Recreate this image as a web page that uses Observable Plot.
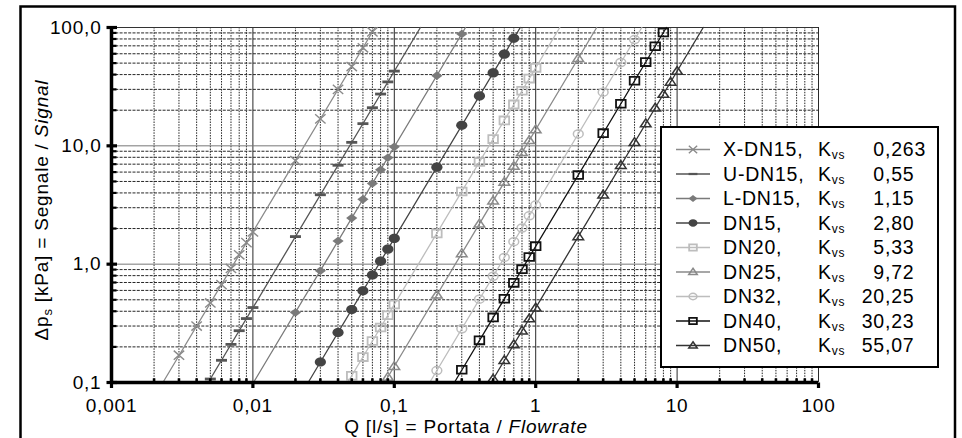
<!DOCTYPE html>
<html><head><meta charset="utf-8">
<script src="https://cdn.jsdelivr.net/npm/d3@7"></script>
<script src="https://cdn.jsdelivr.net/npm/@observablehq/plot@0.6"></script>
<style>
body{margin:0;background:#fff;}
#chart{width:962px;height:438px;overflow:hidden;}
</style>
</head><body><div id="chart"></div>
<script>
// ---- axis ticks / labels ----
const X_TICKS = [0.001, 0.01, 0.1, 1, 10, 100];
const X_TICK_LABELS = ["0,001", "0,01", "0,1", "1", "10", "100"];
const Y_TICKS = [0.1, 1, 10, 100];
const Y_TICK_LABELS = ["0,1", "1,0", "10,0", "100,0"];

// ---- series ----
const NAMES = ["X-DN15,", "U-DN15,", "L-DN15,", "DN15,", "DN20,", "DN25,", "DN32,", "DN40,", "DN50,"];
const KVS = ["0,263", "0,55", "1,15", "2,80", "5,33", "9,72", "20,25", "30,23", "55,07"];

// markers: Q [l/s] and Δp [kPa]
const Q_XDN15  = [0.003, 0.004, 0.005, 0.006, 0.007, 0.008, 0.009, 0.01, 0.02, 0.03, 0.04, 0.05, 0.06, 0.07];
const DP_XDN15 = [0.17, 0.30, 0.47, 0.67, 0.92, 1.20, 1.52, 1.87, 7.5, 16.9, 30.0, 46.8, 67.4, 91.8];
const Q_UDN15  = [0.005, 0.006, 0.007, 0.008, 0.009, 0.01, 0.02, 0.03, 0.04, 0.05, 0.06, 0.07, 0.08, 0.09, 0.1];
const DP_UDN15 = [0.107, 0.154, 0.21, 0.274, 0.347, 0.43, 1.71, 3.86, 6.85, 10.7, 15.4, 21.0, 27.4, 34.7, 42.8];
const Q_LDN15  = [0.02, 0.03, 0.04, 0.05, 0.06, 0.07, 0.08, 0.09, 0.1, 0.2, 0.3];
const DP_LDN15 = [0.39, 0.88, 1.57, 2.45, 3.53, 4.80, 6.27, 7.94, 9.8, 39.2, 88.2];
const Q_DN15   = [0.03, 0.04, 0.05, 0.06, 0.07, 0.08, 0.09, 0.1, 0.2, 0.3, 0.4, 0.5, 0.6, 0.7];
const DP_DN15  = [0.149, 0.264, 0.413, 0.595, 0.81, 1.06, 1.34, 1.65, 6.6, 14.9, 26.4, 41.3, 59.5, 81.0];
const Q_DN20   = [0.05, 0.06, 0.07, 0.08, 0.09, 0.1, 0.2, 0.3, 0.4, 0.5, 0.6, 0.7, 0.8, 0.9, 1];
const DP_DN20  = [0.114, 0.164, 0.224, 0.292, 0.37, 0.456, 1.82, 4.11, 7.3, 11.4, 16.4, 22.4, 29.2, 37.0, 45.6];
const Q_DN25   = [0.09, 0.1, 0.2, 0.3, 0.4, 0.5, 0.6, 0.7, 0.8, 0.9, 1, 2];
const DP_DN25  = [0.111, 0.137, 0.549, 1.23, 2.19, 3.43, 4.94, 6.72, 8.78, 11.1, 13.7, 54.9];
const Q_DN32   = [0.2, 0.3, 0.4, 0.5, 0.6, 0.7, 0.8, 0.9, 1, 2, 3, 4, 5];
const DP_DN32  = [0.126, 0.284, 0.506, 0.79, 1.14, 1.55, 2.02, 2.56, 3.16, 12.6, 28.4, 50.6, 79.0];
const Q_DN40   = [0.3, 0.4, 0.5, 0.6, 0.7, 0.8, 0.9, 1, 2, 3, 4, 5, 6, 7, 8];
const DP_DN40  = [0.128, 0.227, 0.355, 0.51, 0.695, 0.908, 1.15, 1.42, 5.67, 12.8, 22.7, 35.5, 51.0, 69.5, 90.8];
const Q_DN50   = [0.5, 0.6, 0.7, 0.8, 0.9, 1, 2, 3, 4, 5, 6, 7, 8, 9, 10];
const DP_DN50  = [0.107, 0.154, 0.209, 0.273, 0.346, 0.427, 1.71, 3.85, 6.84, 10.7, 15.4, 20.9, 27.3, 34.6, 42.7];

// characteristic lines: Q where each line meets Δp = 0.1 and Δp = 100
const LINE_DP = [0.1, 100];
const LINE_Q_LOW  = [0.00231, 0.00483, 0.0101, 0.0246, 0.0468, 0.0854, 0.178, 0.266, 0.484];
const LINE_Q_HIGH = [0.0731, 0.153, 0.319, 0.778, 1.48, 2.70, 5.63, 8.40, 15.3];

const SERIES_Q  = [Q_XDN15, Q_UDN15, Q_LDN15, Q_DN15, Q_DN20, Q_DN25, Q_DN32, Q_DN40, Q_DN50];
const SERIES_DP = [DP_XDN15, DP_UDN15, DP_LDN15, DP_DN15, DP_DN20, DP_DN25, DP_DN32, DP_DN40, DP_DN50];

// ---- styles ----
const STYLES = [
  {color: "#8a8a8a", sym: "times",    fill: "none",    stroke: "#8a8a8a", sw: 1.4},
  {color: "#555555", sym: "dash",     fill: "#555555", stroke: "none",    sw: 0},
  {color: "#7a7a7a", sym: "diamond",  fill: "#7a7a7a", stroke: "none",    sw: 0},
  {color: "#444444", sym: "ellipse",  fill: "#444444", stroke: "none",    sw: 0},
  {color: "#bdbdbd", sym: "square",   fill: "none",    stroke: "#bdbdbd", sw: 1.8},
  {color: "#8a8a8a", sym: "triangle", fill: "none",    stroke: "#8a8a8a", sw: 1.5},
  {color: "#bdbdbd", sym: "oellipse", fill: "none",    stroke: "#bdbdbd", sw: 1.5},
  {color: "#111111", sym: "square",   fill: "none",    stroke: "#111111", sw: 1.8},
  {color: "#333333", sym: "triangle", fill: "none",    stroke: "#333333", sw: 1.5}
];

function ellipse(ctx, rx, ry) {
  const k = 0.5523;
  ctx.moveTo(rx, 0);
  ctx.bezierCurveTo(rx, ry * k, rx * k, ry, 0, ry);
  ctx.bezierCurveTo(-rx * k, ry, -rx, ry * k, -rx, 0);
  ctx.bezierCurveTo(-rx, -ry * k, -rx * k, -ry, 0, -ry);
  ctx.bezierCurveTo(rx * k, -ry, rx, -ry * k, rx, 0);
  ctx.closePath();
}
function sym(kind, s = 1) {
  return {draw(ctx) {
    switch (kind) {
      case "times": { const w = 5.2 * s, h = 4.6 * s;
        ctx.moveTo(-w, -h); ctx.lineTo(w, h); ctx.moveTo(-w, h); ctx.lineTo(w, -h); break; }
      case "dash": ctx.rect(-5.5 * s, -1.4 * s, 11 * s, 2.8 * s); break;
      case "diamond": ctx.moveTo(0, -4.3 * s); ctx.lineTo(5.6 * s, 0); ctx.lineTo(0, 4.3 * s); ctx.lineTo(-5.6 * s, 0); ctx.closePath(); break;
      case "ellipse": ellipse(ctx, 5.6 * s, 4.6 * s); break;
      case "oellipse": ellipse(ctx, 4.9 * s, 4.0 * s); break;
      case "square": ctx.rect(-4.8 * s, -3.9 * s, 9.6 * s, 7.8 * s); break;
      case "triangle": ctx.moveTo(0, -4.7 * s); ctx.lineTo(5.3 * s, 3.1 * s); ctx.lineTo(-5.3 * s, 3.1 * s); ctx.closePath(); break;
    }
  }};
}
const rectSym = (x0, y0, w, h) => ({draw(ctx) { ctx.rect(x0, y0, w, h); }});

// grid positions (axis structure)
const X_MINOR = [], Y_MINOR = [];
for (const dec of [0.001, 0.01, 0.1, 1, 10]) for (let k = 2; k <= 9; k++) X_MINOR.push(+(dec * k).toPrecision(3));
for (const dec of [0.1, 1, 10]) for (let k = 2; k <= 9; k++) Y_MINOR.push(+(dec * k).toPrecision(3));

const marks = [
  Plot.ruleX(X_MINOR, {stroke: "#262626", strokeWidth: 1, strokeDasharray: "1.5,1.2"}),
  Plot.ruleY(Y_MINOR, {stroke: "#262626", strokeWidth: 1, strokeDasharray: "3,1.3"}),
  Plot.ruleX([0.01, 0.1, 1, 10, 100], {stroke: "#2a2a2a", strokeWidth: 1}),
  Plot.ruleY([1, 10], {stroke: "#777", strokeWidth: 1}),
  Plot.ruleY([100], {stroke: "#333", strokeWidth: 1})
];

SERIES_Q.forEach((qs, i) => {
  const st = STYLES[i];
  const lineData = LINE_DP.map((dp, j) => ({q: j === 0 ? LINE_Q_LOW[i] : LINE_Q_HIGH[i], dp}));
  marks.push(Plot.line(lineData, {x: "q", y: "dp", stroke: st.color, strokeWidth: 1.3}));
  const pts = qs.map((q, j) => ({q, dp: SERIES_DP[i][j]}));
  marks.push(Plot.dot(pts, {x: "q", y: "dp", symbol: sym(st.sym), fill: st.fill, stroke: st.stroke, strokeWidth: st.sw}));
});

marks.push(
  Plot.ruleX([0.001], {stroke: "black", strokeWidth: 3.5}),
  Plot.ruleY([0.1], {stroke: "black", strokeWidth: 3.5}),
  Plot.dot(Y_MINOR, {x: () => 0.001, y: d => d, symbol: rectSym(0, -1.1, 5, 2.2), fill: "black", stroke: "none"}),
  Plot.dot(Y_TICKS, {x: () => 0.001, y: d => d, symbol: rectSym(-5, -1.6, 10.5, 3.2), fill: "black", stroke: "none"}),
  Plot.dot(X_MINOR, {x: d => d, y: () => 0.1, symbol: rectSym(-1.3, -4.2, 2.6, 4.2), fill: "black", stroke: "none"}),
  Plot.dot(X_TICKS, {x: d => d, y: () => 0.1, symbol: rectSym(-1.6, 0, 3.2, 5.5), fill: "black", stroke: "none"}),
  Plot.axisX(X_TICKS, {tickSize: 0, tickPadding: 16, label: null, fontSize: 19,
    tickFormat: d => X_TICK_LABELS[X_TICKS.indexOf(d)]}),
  Plot.axisY(Y_TICKS, {tickSize: 0, tickPadding: 10, label: null, fontSize: 19,
    tickFormat: d => Y_TICK_LABELS[Y_TICKS.indexOf(d)]})
);

const svg = Plot.plot({
  width: 962, height: 438,
  marginLeft: 111, marginRight: 144, marginTop: 27, marginBottom: 56,
  x: {type: "log", domain: [0.001, 100]},
  y: {type: "log", domain: [0.1, 100]},
  style: {fontFamily: "'Liberation Sans', Arial, sans-serif", fontSize: "19px", background: "#fff", color: "#000", letterSpacing: "0.8px"},
  marks
});
document.getElementById("chart").appendChild(svg);

const s = d3.select(svg);
// outer border
s.append("rect").attr("x", 20.5).attr("y", 6.5).attr("width", 934.5).attr("height", 460)
  .attr("fill", "none").attr("stroke", "#000").attr("stroke-width", 2.5);

// axis titles
const yl = s.append("text").attr("transform", "translate(48,210) rotate(-90)")
  .attr("text-anchor", "middle").attr("font-size", 19).attr("fill", "#000");
yl.append("tspan").text("Δp");
yl.append("tspan").attr("font-size", 13).attr("dy", 4).text("s");
yl.append("tspan").attr("dy", -4).text(" [kPa] = Segnale / ");
yl.append("tspan").attr("font-style", "italic").text("Signal");

const xl = s.append("text").attr("x", 466).attr("y", 433)
  .attr("text-anchor", "middle").attr("font-size", 19).attr("fill", "#000");
xl.append("tspan").text("Q [l/s] = Portata / ");
xl.append("tspan").attr("font-style", "italic").text("Flowrate");

// legend
const lg = s.append("g").attr("text-anchor", "start");
lg.append("rect").attr("x", 661).attr("y", 127).attr("width", 277).attr("height", 240)
  .attr("fill", "#fff").attr("stroke", "#000").attr("stroke-width", 2);
NAMES.forEach((name, i) => {
  const st = STYLES[i];
  const base = 156 + 24.5 * i;
  const cy = base - 6.5;
  lg.append("line").attr("x1", 676).attr("x2", 710).attr("y1", cy).attr("y2", cy)
    .attr("stroke", st.color).attr("stroke-width", 1.3);
  const p = d3.path(); sym(st.sym, 0.8).draw(p);
  lg.append("path").attr("d", p.toString()).attr("transform", `translate(693,${cy})`)
    .attr("fill", st.fill).attr("stroke", st.stroke).attr("stroke-width", st.sw || null);
  lg.append("text").attr("x", 723).attr("y", base).attr("font-size", 19.5).attr("text-anchor", "start").text(name);
  const k = lg.append("text").attr("x", 818).attr("y", base).attr("font-size", 19.5).attr("text-anchor", "start");
  k.append("tspan").text("K");
  k.append("tspan").attr("font-size", 12).attr("dy", 3).text("vs");
  const [ip, dp] = KVS[i].split(",");
  lg.append("text").attr("x", 885).attr("y", base).attr("font-size", 19.5).attr("text-anchor", "end").text(ip);
  lg.append("text").attr("x", 885).attr("y", base).attr("font-size", 19.5).attr("text-anchor", "start").text("," + dp);
});
</script>
</body></html>
